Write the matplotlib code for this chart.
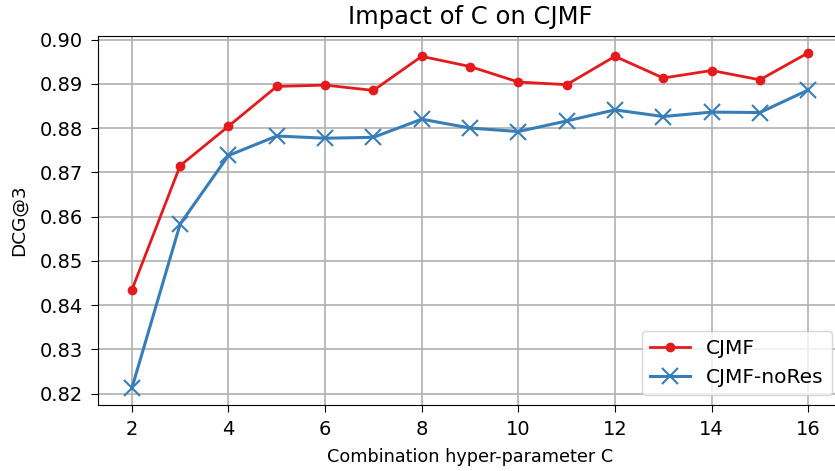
import matplotlib
matplotlib.use('Agg')
import matplotlib.pyplot as plt

# 组合超参数 C 对 CJMF 的影响
c_values = [2, 3, 4, 5, 6, 7, 8, 9, 10, 11, 12, 13, 14, 15, 16]
cjmf = [0.8434, 0.8715, 0.8804, 0.8894, 0.8897, 0.8885, 0.8962, 0.8939,
        0.8904, 0.8898, 0.8962, 0.8913, 0.8930, 0.8909, 0.8970]
cjmf_nores = [0.8212, 0.8583, 0.8738, 0.8782, 0.8777, 0.8779, 0.8820, 0.8800,
              0.8792, 0.8816, 0.8841, 0.8826, 0.8836, 0.8835, 0.8886]

fig = plt.figure(figsize=(8.35, 4.71), dpi=100)
ax = fig.add_axes([0.1174, 0.1401, 0.891, 0.7834])

ax.plot(c_values, cjmf, color='#e41a1c', marker='o', markersize=6, linewidth=2, label='CJMF')
ax.plot(c_values, cjmf_nores, color='#377eb8', marker='x', markersize=12, markeredgewidth=1.5,
        linewidth=2.2, label='CJMF-noRes')

ax.set_xticks(range(2, 17, 2))
ax.grid(True, color='#b0b0b0', linewidth=1.2)
ax.tick_params(labelsize=14, length=5, pad=6)
ax.set_title('Impact of C on CJMF', fontsize=17.5, pad=9)
ax.set_xlabel('Combination hyper-parameter C', fontsize=12.7, labelpad=6)
ax.set_ylabel('DCG@3', fontsize=13.3, labelpad=8)
ax.legend(loc='lower right', fontsize=14.5)

fig.savefig('out.png', dpi=100)
